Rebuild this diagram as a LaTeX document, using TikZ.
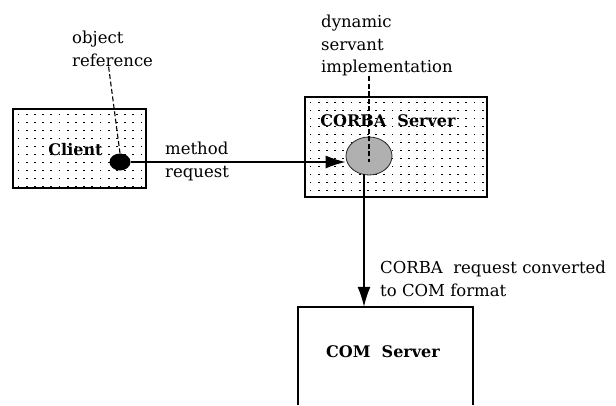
\documentclass[tikz,border=0pt]{standalone}
\usepackage{fontspec}
\setmainfont{DejaVu Serif}
\usetikzlibrary{arrows.meta,shapes.geometric}

\tikzset{
  box/.style={draw, line width=1.6pt, rectangle, inner sep=0pt},
  lbl/.style={font=\fontsize{16.5}{22.5}\selectfont, align=left, anchor=north west, inner sep=0pt},
  title/.style={font=\bfseries\fontsize{16}{20}\selectfont, inner sep=0pt},
  conn/.style={line width=1.3pt},
  refline/.style={line width=1.1pt, dash pattern=on 5pt off 2.5pt},
  head/.style={-{Latex[length=20pt,width=13pt]}},
}

% stippled fill of a rectangle: #1,#2 top-left, #3,#4 bottom-right
\newcommand{\stipple}[4]{%
  \begin{scope}
    \clip (#1,#2) rectangle (#3,#4);
    \foreach \i in {0,...,24} {
      \foreach \j in {0,...,13} {
        \fill (#1+4.5+8.2*\i, #2+4.5+8*\j) rectangle +(1.8,1.8);
      }
    }
  \end{scope}}

\begin{document}
\begin{tikzpicture}[x=1pt, y=-1pt]
  \useasboundingbox (0,0) rectangle (616,405);

  % client box
  \stipple{13}{109}{146}{188}
  \node (client) [box, minimum width=133pt, minimum height=79pt] at (79.5,148.5) {};
  \node (clientlbl) [title] at (75.5,150) {Client};

  % CORBA server box
  \stipple{305}{97}{487}{197}
  \node (corba) [box, minimum width=182pt, minimum height=100pt] at (396,147) {};
  \node (corbalbl) [title] at (388,121) {CORBA\ \ Server};

  % COM server box, open at the bottom edge
  \node (com) [rectangle, draw=none, minimum width=175pt, minimum height=98pt, inner sep=0pt] at (385.5,356) {};
  \draw[line width=1.6pt] (com.south west) -- (com.north west) -- (com.north east) -- (com.south east);
  \node (comlbl) [title] at (383,351.5) {COM\ \ Server};

  % object reference and servant
  \node (cref) [ellipse, fill=black, minimum width=21pt, minimum height=17pt, inner sep=0pt] at (120,162) {};
  \node (serv) [ellipse, fill=gray!62, draw=black!85, line width=0.8pt, minimum width=46pt, minimum height=38pt, inner sep=0pt] at (369,156) {};

  % labels
  \node (objlbl) [lbl] at (72,31) {object\\reference};
  \node (impllbl) [lbl] at (321,15) {dynamic\\servant\\implementation};
  \node (methlbl) [lbl] at (165,142) {method\\request};
  \node (convlbl) [lbl] at (380,261) {CORBA\ \ request converted\\to COM format};

  % pointers from labels
  \draw[refline] ([xshift=-4pt]objlbl.south) -- (cref.north);
  \draw[refline] (impllbl.south west -| serv.north) -- ([yshift=-6pt]serv.center);

  % requests
  \draw[conn, head] (cref.east) -- (serv.west |- cref.east);
  \coordinate (tap) at (364,174);
  \draw[conn, head] (tap) -- (tap |- com.north);
\end{tikzpicture}
\end{document}
